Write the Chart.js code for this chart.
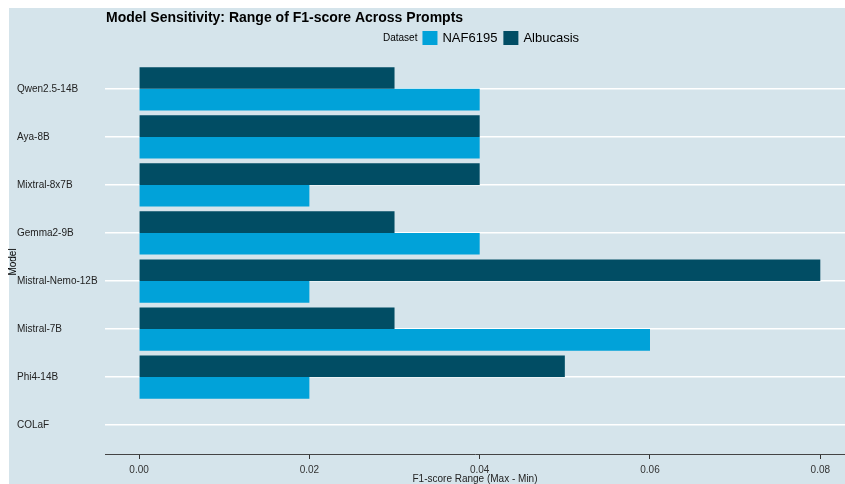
<!DOCTYPE html>
<html>
<head>
<meta charset="utf-8">
<script src="https://cdn.jsdelivr.net/npm/chart.js@4.4.1/dist/chart.umd.min.js"></script>
<style>
  html, body { margin: 0; padding: 0; background: #ffffff; }
  #wrap { width: 845px; height: 484px; }
</style>
</head>
<body>
<div id="wrap"><canvas id="c" width="845" height="484"></canvas></div>
<script>
// ---- data ----
const models = ["Qwen2.5-14B", "Aya-8B", "Mixtral-8x7B", "Gemma2-9B", "Mistral-Nemo-12B", "Mistral-7B", "Phi4-14B", "COLaF"];
const albucasis = [0.03, 0.04, 0.04, 0.03, 0.08, 0.03, 0.05, 0];
const naf6195   = [0.04, 0.04, 0.02, 0.04, 0.02, 0.06, 0.02, 0];
const xTicks = [0.00, 0.02, 0.04, 0.06, 0.08];
const legendOrder = ["NAF6195", "Albucasis"];

const BG = '#d5e4eb';
const FONT = '"Liberation Sans", Arial, Helvetica, sans-serif';

// category scale with ggplot-like 0.6-unit expansion on both ends
class PadCategory extends Chart.CategoryScale {
  getPixelForValue(value) {
    if (typeof value !== 'number') value = this.parse(value);
    if (value === null || value === undefined || isNaN(value)) return NaN;
    const pad = 0.6;
    return this.getPixelForDecimal((value - this.min + pad) / (this.max - this.min + 2 * pad));
  }
}
PadCategory.id = 'padcategory';
PadCategory.defaults = Chart.CategoryScale.defaults;
Chart.register(PadCategory);

const decor = {
  id: 'decor',
  beforeDraw(chart) {
    const ctx = chart.ctx;
    ctx.save();
    ctx.fillStyle = '#ffffff';
    ctx.fillRect(0, 0, chart.width, chart.height);
    ctx.fillStyle = BG;
    ctx.fillRect(9, 8, chart.width - 9, chart.height - 8);
    ctx.restore();
  },
  afterDraw(chart) {
    const ctx = chart.ctx;
    ctx.save();
    // title
    ctx.fillStyle = '#000000';
    ctx.font = 'bold 14px ' + FONT;
    ctx.textAlign = 'left';
    ctx.textBaseline = 'middle';
    ctx.fillText('Model Sensitivity: Range of F1-score Across Prompts', 106, 18);
    // legend
    const ly = 38;
    ctx.font = '10px ' + FONT;
    ctx.fillStyle = '#000000';
    let x = 383;
    ctx.fillText('Dataset', x, ly);
    x += ctx.measureText('Dataset').width + 5;
    legendOrder.forEach(name => {
      const ds = chart.data.datasets.find(d => d.label === name);
      ctx.fillStyle = ds.backgroundColor;
      ctx.fillRect(x, ly - 7, 15, 14);
      x += 15 + 5;
      ctx.fillStyle = '#000000';
      ctx.font = '13px ' + FONT;
      ctx.fillText(name, x, ly);
      x += ctx.measureText(name).width + 6;
    });
    // y-axis title
    ctx.translate(13, 262);
    ctx.rotate(-Math.PI / 2);
    ctx.textAlign = 'center';
    ctx.font = '10px ' + FONT;
    ctx.fillStyle = '#000000';
    ctx.fillText('Model', 0, 0);
    ctx.restore();
  }
};

new Chart(document.getElementById('c'), {
  type: 'bar',
  data: {
    labels: models,
    datasets: [
      { label: 'Albucasis', data: albucasis, backgroundColor: '#014d64', borderWidth: 0 },
      { label: 'NAF6195', data: naf6195, backgroundColor: '#01a2d9', borderWidth: 0 }
    ]
  },
  options: {
    indexAxis: 'y',
    responsive: false,
    animation: false,
    devicePixelRatio: 1,
    layout: { padding: { left: 17, top: 60, right: 0, bottom: 0 } },
    datasets: { bar: { categoryPercentage: 0.9, barPercentage: 1.0 } },
    plugins: {
      legend: { display: false },
      title: { display: false },
      tooltip: { enabled: false }
    },
    scales: {
      x: {
        type: 'linear',
        min: -0.004,
        max: 0.0829,
        afterBuildTicks: s => { s.ticks = xTicks.map(v => ({ value: v })); },
        afterFit: s => { s.height = 30; },
        ticks: {
          callback: v => Number(v).toFixed(2),
          font: { family: FONT, size: 10 },
          color: '#333333',
          padding: 5,
          maxRotation: 0
        },
        grid: { drawOnChartArea: false, drawTicks: true, tickLength: 5, color: '#333333', lineWidth: 1 },
        border: { display: true, color: '#444444', width: 1 },
        title: {
          display: true,
          text: 'F1-score Range (Max - Min)',
          font: { family: FONT, size: 10, lineHeight: 1 },
          color: '#222222',
          padding: { top: 0, bottom: 0 }
        }
      },
      y: {
        type: 'padcategory',
        afterFit: s => { s.width = 88; },
        ticks: {
          crossAlign: 'far',
          font: { family: FONT, size: 10 },
          color: '#222222'
        },
        grid: { offset: false, drawTicks: false, color: '#ffffff', lineWidth: 1.5 },
        border: { display: false }
      }
    }
  },
  plugins: [decor]
});
</script>
</body>
</html>
